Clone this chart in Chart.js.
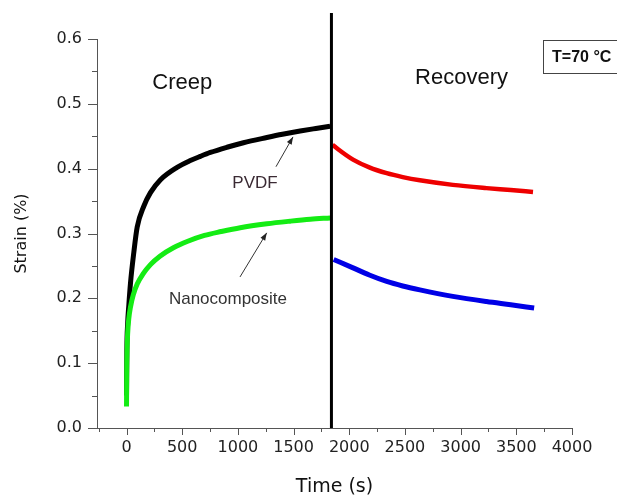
<!DOCTYPE html>
<html>
<head>
<meta charset="utf-8">
<script src="https://cdn.jsdelivr.net/npm/chart.js@4/dist/chart.umd.min.js"></script>
<style>
html,body{margin:0;padding:0;background:#fff;}
#wrap{width:617px;height:498px;position:relative;}
</style>
</head>
<body>
<div id="wrap"><canvas id="c"></canvas></div>
<script>
// ---------- DATA ----------
const pvdfCreepTime   = [0, 3, 10, 21, 36, 65, 96, 155, 215, 305, 454, 573, 663, 753, 902, 1050, 1260, 1400, 1559, 1700, 1828];
const pvdfCreepStrain = [0.05, 0.12, 0.16, 0.19, 0.224, 0.27, 0.31, 0.342, 0.363, 0.383, 0.402, 0.4125, 0.419, 0.425, 0.433, 0.440, 0.448, 0.453, 0.458, 0.462, 0.4655];

const nanoCreepTime   = [0, 2, 5, 10, 20, 36, 60, 96, 150, 215, 300, 421, 550, 700, 850, 1021, 1260, 1469, 1650, 1828];
const nanoCreepStrain = [0.033, 0.09, 0.12, 0.145, 0.168, 0.187, 0.205, 0.222, 0.238, 0.252, 0.265, 0.278, 0.288, 0.297, 0.303, 0.309, 0.315, 0.319, 0.322, 0.324];

const pvdfRecoveryTime   = [1850, 1900, 2034, 2180, 2336, 2480, 2634, 2930, 3232, 3450, 3650];
const pvdfRecoveryStrain = [0.437, 0.430, 0.414, 0.402, 0.393, 0.387, 0.382, 0.375, 0.370, 0.367, 0.364];

const nanoRecoveryTime   = [1860, 2034, 2180, 2336, 2480, 2634, 2930, 3232, 3450, 3660];
const nanoRecoveryStrain = [0.260, 0.247, 0.236, 0.226, 0.219, 0.213, 0.203, 0.195, 0.190, 0.185];

const separatorTime   = [1840, 1840];
const separatorStrain = [0, 0.64];

const xTickValues = [0, 500, 1000, 1500, 2000, 2500, 3000, 3500, 4000];
const yTickValues = [0, 0.1, 0.2, 0.3, 0.4, 0.5, 0.6];
const xMinorTickValues = [-250, 250, 750, 1250, 1750, 2250, 2750, 3250, 3750];
const yMinorTickValues = [0.05, 0.15, 0.25, 0.35, 0.45, 0.55];

const xAxisTitle = 'Time (s)';
const yAxisTitle = 'Strain (%)';
const phaseLabels = [ {text:'Creep', x:500, y:0.532}, {text:'Recovery', x:3008, y:0.540} ];
const seriesLabels = [
  {text:'PVDF', x:1154, y:0.378, arrowFrom:[1342,0.403], arrowTo:[1495,0.449]},
  {text:'Nanocomposite', x:911, y:0.199, arrowFrom:[1019,0.233], arrowTo:[1259,0.301]}
];
const conditionLabel = 'T=70 °C';

// ---------- BUILD ----------
const pts = (xs, ys) => xs.map((x, i) => ({x: x, y: ys[i]}));
const ds = (data, color, width, extra) => Object.assign({
  data: data, borderColor: color, backgroundColor: color, borderWidth: width,
  pointRadius: 0, fill: false, cubicInterpolationMode: 'monotone'
}, extra || {});

const annotPlugin = {
  id: 'annot',
  afterDatasetsDraw(chart) {
    const ctx = chart.ctx;
    const xs = chart.scales.x, ys = chart.scales.y;
    const area = chart.chartArea;
    ctx.save();
    // minor/major tick marks
    ctx.strokeStyle = '#555';
    ctx.lineWidth = 1;
    ctx.beginPath();
    xTickValues.forEach(v => { const px = Math.round(xs.getPixelForValue(v)) + 0.5; ctx.moveTo(px, area.bottom); ctx.lineTo(px, area.bottom + 7); });
    xMinorTickValues.forEach(v => { const px = Math.round(xs.getPixelForValue(v)) + 0.5; ctx.moveTo(px, area.bottom); ctx.lineTo(px, area.bottom + 4); });
    yTickValues.forEach(v => { const py = Math.round(ys.getPixelForValue(v)) + 0.5; ctx.moveTo(area.left, py); ctx.lineTo(area.left - 9, py); });
    yMinorTickValues.forEach(v => { const py = Math.round(ys.getPixelForValue(v)) + 0.5; ctx.moveTo(area.left, py); ctx.lineTo(area.left - 5, py); });
    ctx.stroke();

    // phase labels
    ctx.fillStyle = '#111';
    ctx.textAlign = 'center';
    ctx.textBaseline = 'middle';
    ctx.font = '22px "Liberation Sans", Arial, sans-serif';
    phaseLabels.forEach(l => ctx.fillText(l.text, xs.getPixelForValue(l.x), ys.getPixelForValue(l.y)));

    // series labels with arrows
    ctx.font = '17px "Liberation Sans", Arial, sans-serif';
    seriesLabels.forEach((l, i) => {
      ctx.fillStyle = i === 0 ? '#3a2a33' : '#333';
      ctx.fillText(l.text, xs.getPixelForValue(l.x), ys.getPixelForValue(l.y));
      const x1 = xs.getPixelForValue(l.arrowFrom[0]), y1 = ys.getPixelForValue(l.arrowFrom[1]);
      const x2 = xs.getPixelForValue(l.arrowTo[0]), y2 = ys.getPixelForValue(l.arrowTo[1]);
      ctx.strokeStyle = '#333';
      ctx.lineWidth = 1;
      ctx.beginPath(); ctx.moveTo(x1, y1); ctx.lineTo(x2, y2); ctx.stroke();
      const a = Math.atan2(y2 - y1, x2 - x1), L = 8, W = 0.35;
      ctx.fillStyle = '#222';
      ctx.beginPath();
      ctx.moveTo(x2, y2);
      ctx.lineTo(x2 - L * Math.cos(a - W), y2 - L * Math.sin(a - W));
      ctx.lineTo(x2 - L * Math.cos(a + W), y2 - L * Math.sin(a + W));
      ctx.closePath(); ctx.fill();
    });

    // condition box (top right, running off the right edge)
    const bx = xs.getPixelForValue(3740), by = area.top + 1;
    ctx.strokeStyle = '#444';
    ctx.lineWidth = 1;
    ctx.strokeRect(Math.round(bx) + 0.5, Math.round(by) + 0.5, 100, 33);
    ctx.fillStyle = '#111';
    ctx.font = 'bold 16px "Liberation Sans", Arial, sans-serif';
    ctx.textAlign = 'left';
    ctx.fillText(conditionLabel, bx + 9, by + 18);
    ctx.restore();
  }
};

new Chart(document.getElementById('c'), {
  type: 'line',
  data: {
    datasets: [
      ds(pts(separatorTime, separatorStrain), '#000', 3, {clip: false, cubicInterpolationMode: 'default', tension: 0}),
      ds(pts(nanoCreepTime, nanoCreepStrain), '#14ec14', 5),
      ds(pts(pvdfCreepTime, pvdfCreepStrain), '#000', 5),
      ds(pts(pvdfRecoveryTime, pvdfRecoveryStrain), '#ee0000', 4.5),
      ds(pts(nanoRecoveryTime, nanoRecoveryStrain), '#0000e6', 5)
    ]
  },
  options: {
    responsive: true,
    maintainAspectRatio: false,
    animation: false,
    devicePixelRatio: 1,
    layout: { padding: { top: 39, right: 45, left: 0, bottom: 0 } },
    plugins: { legend: { display: false }, tooltip: { enabled: false } },
    scales: {
      x: {
        type: 'linear', min: -265, max: 4000,
        afterBuildTicks: s => { s.ticks = xTickValues.map(v => ({value: v})); },
        afterFit: s => { s.height = 70; },
        grid: { display: true, drawOnChartArea: false, drawTicks: false },
        border: { display: true, color: '#555', width: 1 },
        ticks: { padding: 10, color: '#222', autoSkip: false, maxRotation: 0,
                 font: { family: '"DejaVu Sans", sans-serif', size: 16 },
                 callback: v => String(v) },
        title: { display: true, text: xAxisTitle, color: '#111',
                 font: { family: '"DejaVu Sans", sans-serif', size: 19 }, padding: { top: 0, bottom: 0 } }
      },
      y: {
        type: 'linear', min: 0, max: 0.6,
        afterBuildTicks: s => { s.ticks = yTickValues.map(v => ({value: v})); },
        afterFit: s => { s.width = 97; },
        grid: { display: true, drawOnChartArea: false, drawTicks: false },
        border: { display: true, color: '#555', width: 1 },
        ticks: { padding: 15, color: '#222',
                 font: { family: '"DejaVu Sans", sans-serif', size: 16 },
                 callback: v => Number(v).toFixed(1) },
        title: { display: true, text: yAxisTitle, color: '#111',
                 font: { family: '"DejaVu Sans", sans-serif', size: 16 }, padding: { top: 12, bottom: 0 } }
      }
    }
  },
  plugins: [annotPlugin]
});
</script>
</body>
</html>
